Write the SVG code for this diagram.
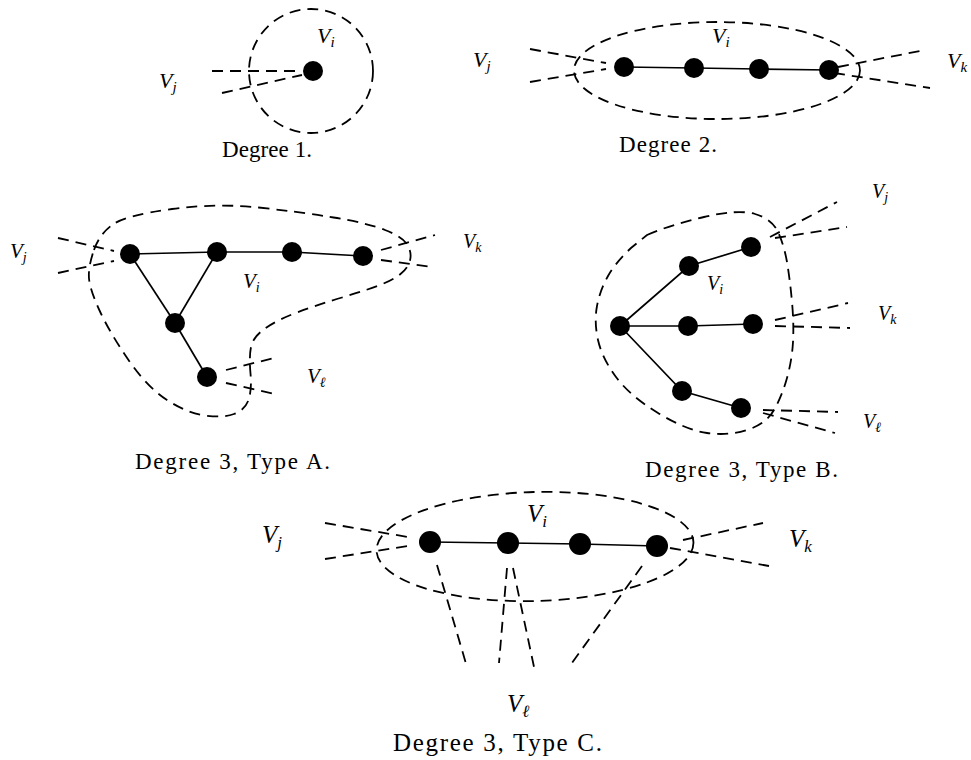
<svg xmlns="http://www.w3.org/2000/svg" width="971" height="760" viewBox="0 0 971 760">
<style>
.bg{fill:#fff}
.node{fill:#000}
.edge{stroke:#000;stroke-width:1.7;fill:none}
.dash{stroke:#000;stroke-width:1.8;fill:none;stroke-dasharray:11 7}
.m{font-family:"Liberation Serif","DejaVu Serif",serif;font-style:italic;fill:#000}
.cap{font-family:"Liberation Serif","DejaVu Serif",serif;fill:#000}
</style>
<rect class="bg" x="0" y="0" width="971" height="760"/>

<!-- ========== Degree 1 ========== -->
<g id="d1-cluster"><circle class="dash" cx="311" cy="71" r="62"/></g>
<g id="d1-connectors">
  <line class="dash" x1="212" y1="71" x2="302" y2="71"/>
  <line class="dash" x1="222" y1="93" x2="302" y2="75"/>
</g>
<g id="d1-n1"><circle class="node" cx="313" cy="71" r="10"/></g>
<g id="d1-labels">
  <text class="m" x="159" y="88" font-size="22">V<tspan font-size="15" dy="4">j</tspan></text>
  <text class="m" x="317" y="43" font-size="22">V<tspan font-size="15" dy="4">i</tspan></text>
  <text class="cap" x="222" y="157" font-size="23" textLength="90" lengthAdjust="spacing">Degree 1.</text>
</g>

<!-- ========== Degree 2 ========== -->
<g id="d2-cluster"><ellipse class="dash" cx="717" cy="70.5" rx="143" ry="48.5"/></g>
<g id="d2-connectors">
  <polyline class="edge" points="624,67 694,68 759,69 829,70"/>
  <line class="dash" x1="530" y1="49" x2="606" y2="63"/>
  <line class="dash" x1="530" y1="82" x2="606" y2="69"/>
  <line class="dash" x1="838" y1="67" x2="925" y2="50"/>
  <line class="dash" x1="834" y1="73" x2="930" y2="88"/>
</g>
<g id="d2-n1"><circle class="node" cx="624" cy="67" r="10"/></g>
<g id="d2-n2"><circle class="node" cx="694" cy="68" r="10"/></g>
<g id="d2-n3"><circle class="node" cx="759" cy="69" r="10"/></g>
<g id="d2-n4"><circle class="node" cx="829" cy="70" r="10"/></g>
<g id="d2-labels">
  <text class="m" x="473" y="67" font-size="22">V<tspan font-size="15" dy="4">j</tspan></text>
  <text class="m" x="712" y="43" font-size="22">V<tspan font-size="15" dy="4">i</tspan></text>
  <text class="m" x="947" y="68" font-size="22">V<tspan font-size="15" dy="4">k</tspan></text>
  <text class="cap" x="619" y="152" font-size="23" textLength="98" lengthAdjust="spacing">Degree 2.</text>
</g>

<!-- ========== Degree 3, Type A ========== -->
<g id="a-cluster">
  <path class="dash" d="M94,250 Q100,233 113.5,224 Q127,215 172,209 Q217,203 258.5,207.5 Q300,212 333.5,217.5 Q367,223 385,230 Q403,237 407.5,245 Q412,253 410,260.5 Q408,268 400.5,274 Q393,280 380,285 Q367,290 342,297.5 Q317,305 297,312.5 Q277,320 265,328.5 Q253,337 251,347 Q249,357 250.5,373.5 Q252,390 248.5,400 Q245,410 234,414 Q223,418 205,415.5 Q187,413 167,400 Q147,387 128.5,360 Q110,333 100,311.5 Q90,290 89,278.5 Q88,267 94,250 Z"/>
</g>
<g id="a-connectors">
  <polyline class="edge" points="130,254 217,252 292,252 363,256"/>
  <line class="edge" x1="130" y1="254" x2="175" y2="323"/>
  <line class="edge" x1="217" y1="252" x2="175" y2="323"/>
  <line class="edge" x1="175" y1="323" x2="207" y2="377"/>
  <line class="dash" x1="58" y1="238" x2="114" y2="251"/>
  <line class="dash" x1="58" y1="273" x2="114" y2="261"/>
  <line class="dash" x1="381" y1="250" x2="435" y2="235"/>
  <line class="dash" x1="381" y1="260" x2="432" y2="267"/>
  <line class="dash" x1="226" y1="370" x2="278" y2="357"/>
  <line class="dash" x1="226" y1="383" x2="275" y2="394"/>
</g>
<g id="a-n1"><circle class="node" cx="130" cy="254" r="10"/></g>
<g id="a-n2"><circle class="node" cx="217" cy="252" r="10"/></g>
<g id="a-n3"><circle class="node" cx="292" cy="252" r="10"/></g>
<g id="a-n4"><circle class="node" cx="363" cy="256" r="10"/></g>
<g id="a-n5"><circle class="node" cx="175" cy="323" r="10"/></g>
<g id="a-n6"><circle class="node" cx="207" cy="377" r="10"/></g>
<g id="a-labels">
  <text class="m" x="10" y="258" font-size="21">V<tspan font-size="14" dy="4">j</tspan></text>
  <text class="m" x="243" y="288" font-size="21">V<tspan font-size="14" dy="4">i</tspan></text>
  <text class="m" x="463" y="248" font-size="20">V<tspan font-size="14" dy="4">k</tspan></text>
  <text class="m" x="307" y="383" font-size="21">V<tspan font-size="14" dy="4">ℓ</tspan></text>
  <text class="cap" x="135" y="469" font-size="23" textLength="195" lengthAdjust="spacing">Degree 3, Type A.</text>
</g>

<!-- ========== Degree 3, Type B ========== -->
<g id="b-cluster">
  <path class="dash" d="M647,235 Q670,225 704,217 Q738,209 755,214 Q772,219 778,232 Q784,245 787,262 Q790,280 792,302 Q794,324 793,342 Q792,360 787,378 Q782,396 774,410 Q766,424 747,430 Q728,436 707,433 Q686,430 658,413 Q630,396 616,377 Q602,358 598,340 Q594,322 597,306 Q600,290 608,276 Q616,262 631,248 Q647,235 647,235 Z"/>
</g>
<g id="b-connectors">
  <polyline class="edge" points="620,326 689,266 751,247"/>
  <polyline class="edge" points="620,326 688,326 753,324"/>
  <polyline class="edge" points="620,326 682,391 741,408"/>
  <line class="dash" x1="770" y1="237" x2="837" y2="202"/>
  <line class="dash" x1="775" y1="238" x2="847" y2="227"/>
  <line class="dash" x1="775" y1="320" x2="848" y2="303"/>
  <line class="dash" x1="775" y1="326" x2="850" y2="328"/>
  <line class="dash" x1="763" y1="410" x2="838" y2="412"/>
  <line class="dash" x1="763" y1="413" x2="835" y2="433"/>
</g>
<g id="b-n1"><circle class="node" cx="620" cy="326" r="10"/></g>
<g id="b-n2"><circle class="node" cx="689" cy="266" r="10"/></g>
<g id="b-n3"><circle class="node" cx="751" cy="247" r="10"/></g>
<g id="b-n4"><circle class="node" cx="688" cy="326" r="10"/></g>
<g id="b-n5"><circle class="node" cx="753" cy="324" r="10"/></g>
<g id="b-n6"><circle class="node" cx="682" cy="391" r="10"/></g>
<g id="b-n7"><circle class="node" cx="741" cy="408" r="10"/></g>
<g id="b-labels">
  <text class="m" x="872" y="198" font-size="20">V<tspan font-size="14" dy="4">j</tspan></text>
  <text class="m" x="707" y="290" font-size="20">V<tspan font-size="14" dy="4">i</tspan></text>
  <text class="m" x="878" y="320" font-size="20">V<tspan font-size="14" dy="4">k</tspan></text>
  <text class="m" x="863" y="428" font-size="20">V<tspan font-size="14" dy="4">ℓ</tspan></text>
  <text class="cap" x="645" y="477" font-size="23" textLength="193" lengthAdjust="spacing">Degree 3, Type B.</text>
</g>

<!-- ========== Degree 3, Type C ========== -->
<g id="c-cluster"><ellipse class="dash" cx="535" cy="546.5" rx="158.5" ry="54.5" transform="rotate(-1.5 535 546.5)"/></g>
<g id="c-connectors">
  <polyline class="edge" points="430,542 508,543 580,544 657,546"/>
  <line class="dash" x1="325" y1="523" x2="408" y2="537"/>
  <line class="dash" x1="325" y1="559" x2="408" y2="546"/>
  <line class="dash" x1="683" y1="540" x2="763" y2="523"/>
  <line class="dash" x1="670" y1="548" x2="769" y2="566"/>
  <line class="dash" x1="437" y1="565" x2="467" y2="667"/>
  <line class="dash" x1="507" y1="568" x2="499" y2="663"/>
  <line class="dash" x1="513" y1="568" x2="534" y2="667"/>
  <line class="dash" x1="642" y1="566" x2="569" y2="667"/>
</g>
<g id="c-n1"><circle class="node" cx="430" cy="542" r="11"/></g>
<g id="c-n2"><circle class="node" cx="508" cy="543" r="11"/></g>
<g id="c-n3"><circle class="node" cx="580" cy="544" r="11"/></g>
<g id="c-n4"><circle class="node" cx="657" cy="546" r="11"/></g>
<g id="c-labels">
  <text class="m" x="262" y="543" font-size="25">V<tspan font-size="17" dy="5">j</tspan></text>
  <text class="m" x="527" y="522" font-size="25">V<tspan font-size="17" dy="5">i</tspan></text>
  <text class="m" x="789" y="547" font-size="25">V<tspan font-size="17" dy="5">k</tspan></text>
  <text class="m" x="507" y="712" font-size="25">V<tspan font-size="17" dy="5">ℓ</tspan></text>
  <text class="cap" x="393" y="751" font-size="25" textLength="209" lengthAdjust="spacing">Degree 3, Type C.</text>
</g>
</svg>
